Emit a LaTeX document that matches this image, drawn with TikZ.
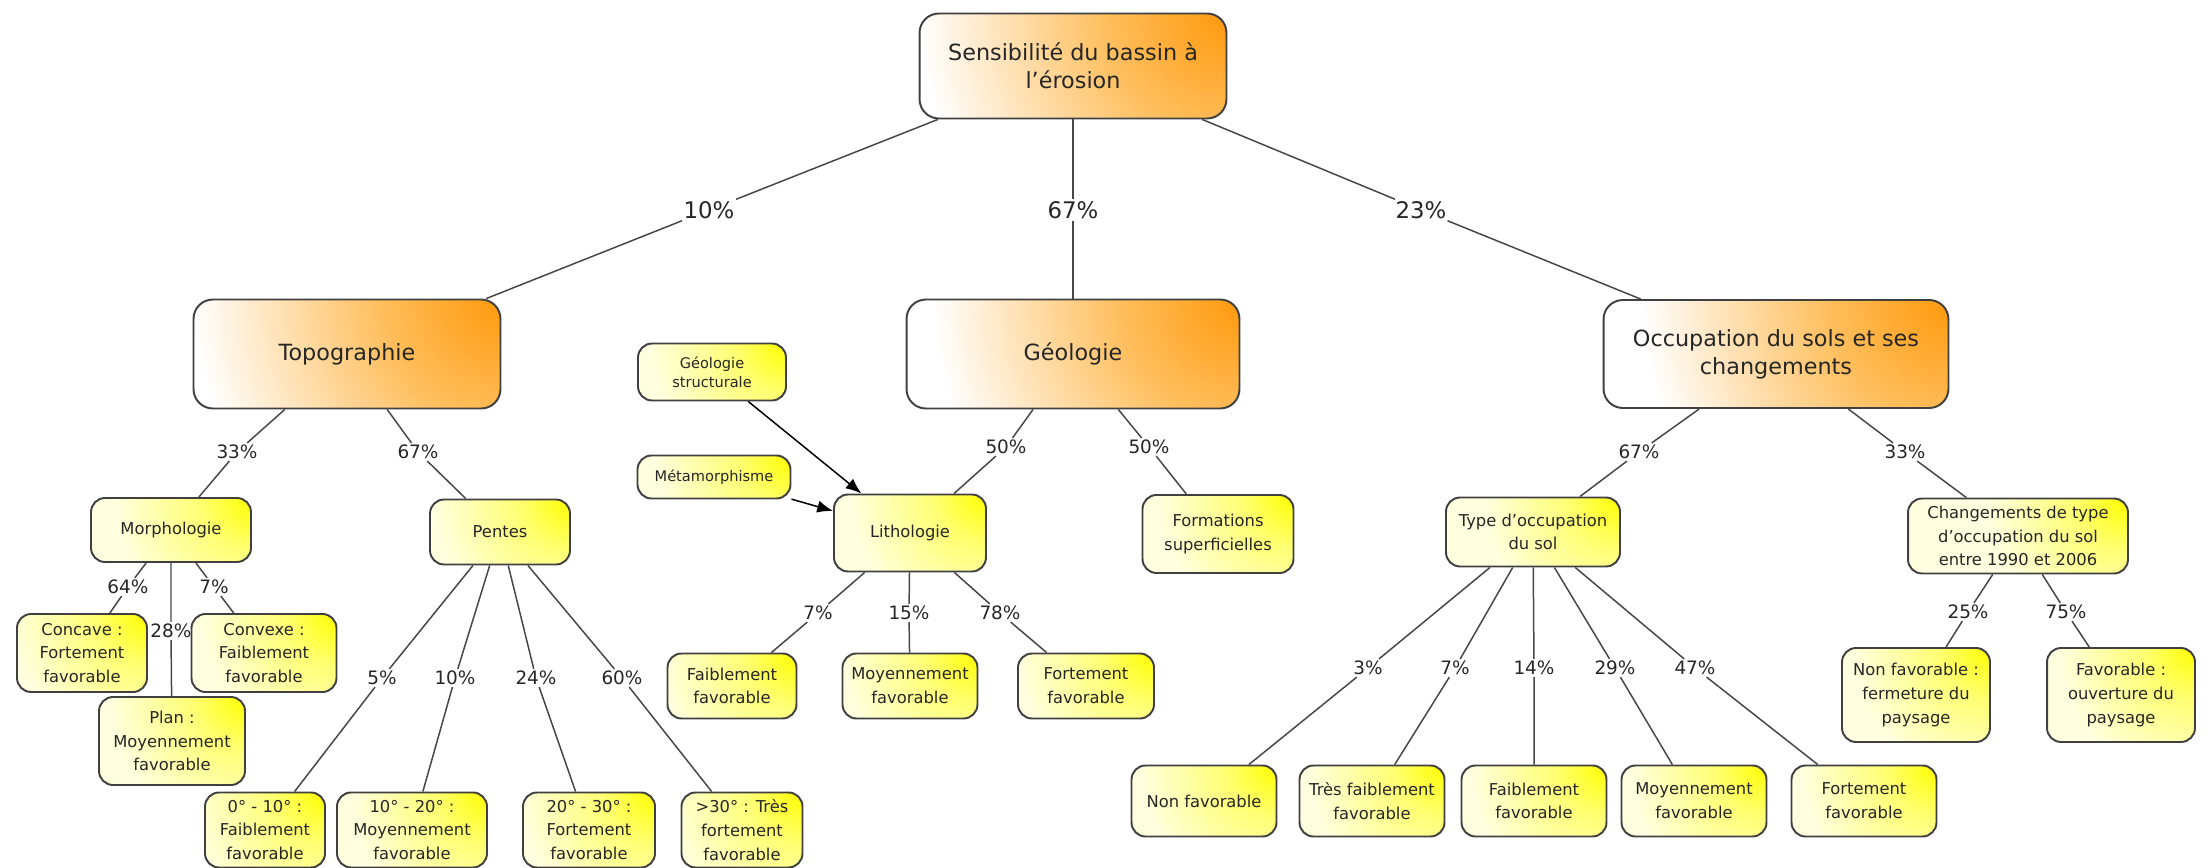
\documentclass[tikz,border=0pt]{standalone}
\usepackage{fontspec}
\setmainfont{DejaVu Sans}
\usetikzlibrary{arrows.meta}
\pgfdeclareradialshading{themecorner}{\pgfpointorigin}{rgb(0bp)=(1,0.6,0.05); rgb(6bp)=(1,0.74,0.35); rgb(16bp)=(1,1,1); rgb(50bp)=(1,1,1)}
\pgfdeclareradialshading{leafcorner}{\pgfpointorigin}{rgb(0bp)=(1,1,0); rgb(6bp)=(1,1,0.45); rgb(16bp)=(1,1,0.88); rgb(50bp)=(1,1,0.88)}

\begin{document}
\begin{tikzpicture}[x=0.02cm, y=-0.02cm, every node/.style={text=black!85}]
  \useasboundingbox (0,0) rectangle (2212,868);
  % pixel grid of the original map: x to the right, y downwards
  \tikzset{theme/.style={draw=black!75, line width=1.1pt, align=center, inner sep=1pt,
            rounded corners=11pt, fill=white, font=\fontsize{12.7}{16}\selectfont,
            path picture={\shade[shading=themecorner] (path picture bounding box.north east) circle (9.6cm);}},
           leaf/.style={draw=black!75, line width=1.1pt, align=center, inner sep=1pt,
            rounded corners=8pt, fill={rgb,1:red,1;green,1;blue,0.88}, font=\fontsize{9.3}{13.5}\selectfont,
            path picture={\shade[shading=leafcorner] (path picture bounding box.north east) circle (4.3cm);}},
           pct/.style={font=\fontsize{10.5}{12}\selectfont, inner sep=1pt},
           link/.style={draw=black!72, line width=0.85pt}}

  \node[theme, minimum width=6.14cm, minimum height=2.10cm] (root) at (1073,66) {Sensibilité du bassin à\\l’érosion};
  \node[theme, minimum width=6.14cm, minimum height=2.18cm] (topo) at (347,354) {Topographie};
  \node[theme, minimum width=6.66cm, minimum height=2.18cm] (geo) at (1073,354) {Géologie};
  \node[theme, minimum width=6.90cm, minimum height=2.16cm] (occ) at (1776,354) {Occupation du sols et ses\\changements};

  \node[leaf, minimum width=3.20cm, minimum height=1.28cm] (morph) at (171,530) {Morphologie};
  \node[leaf, minimum width=2.80cm, minimum height=1.30cm] (pentes) at (500,532) {Pentes};
  \node[leaf, minimum width=2.96cm, minimum height=1.14cm, font=\fontsize{8.3}{11}\selectfont] (gstruct) at (712,372) {Géologie\\structurale};
  \node[leaf, minimum width=3.06cm, minimum height=0.86cm, font=\fontsize{8.3}{11}\selectfont] (meta) at (714,477) {Métamorphisme};
  \node[leaf, minimum width=3.04cm, minimum height=1.54cm] (litho) at (910,533) {Lithologie};
  \node[leaf, minimum width=3.02cm, minimum height=1.56cm] (form) at (1218,534) {Formations\\superficielles};
  \node[leaf, minimum width=3.48cm, minimum height=1.38cm] (type) at (1533,532) {Type d’occupation\\du sol};
  \node[leaf, minimum width=4.40cm, minimum height=1.50cm] (chg) at (2018,536) {Changements de type\\d’occupation du sol\\entre 1990 et 2006};

  \node[leaf, minimum width=2.60cm, minimum height=1.56cm] (concave) at (82,653) {Concave :\\Fortement\\favorable};
  \node[leaf, minimum width=2.90cm, minimum height=1.56cm] (convexe) at (264,653) {Convexe :\\Faiblement\\favorable};
  \node[leaf, minimum width=2.92cm, minimum height=1.76cm] (plan) at (172,741) {Plan :\\Moyennement\\favorable};
  \node[leaf, minimum width=2.40cm, minimum height=1.50cm] (p1) at (265,830) {0° - 10° :\\Faiblement\\favorable};
  \node[leaf, minimum width=3.00cm, minimum height=1.50cm] (p2) at (412,830) {10° - 20° :\\Moyennement\\favorable};
  \node[leaf, minimum width=2.64cm, minimum height=1.50cm] (p3) at (589,830) {20° - 30° :\\Fortement\\favorable};
  \node[leaf, minimum width=2.42cm, minimum height=1.50cm] (p4) at (742,830) {>30° : Très\\fortement\\favorable};
  \node[leaf, minimum width=2.58cm, minimum height=1.30cm] (lf) at (732,686) {Faiblement\\favorable};
  \node[leaf, minimum width=2.70cm, minimum height=1.30cm] (lm) at (910,686) {Moyennement\\favorable};
  \node[leaf, minimum width=2.72cm, minimum height=1.30cm] (lF) at (1086,686) {Fortement\\favorable};
  \node[leaf, minimum width=2.90cm, minimum height=1.42cm] (t1) at (1204,801) {Non favorable};
  \node[leaf, minimum width=2.90cm, minimum height=1.42cm] (t2) at (1372,801) {Très faiblement\\favorable};
  \node[leaf, minimum width=2.90cm, minimum height=1.42cm] (t3) at (1534,801) {Faiblement\\favorable};
  \node[leaf, minimum width=2.90cm, minimum height=1.42cm] (t4) at (1694,801) {Moyennement\\favorable};
  \node[leaf, minimum width=2.90cm, minimum height=1.42cm] (t5) at (1864,801) {Fortement\\favorable};
  \node[leaf, minimum width=2.96cm, minimum height=1.88cm] (c1) at (1916,695) {Non favorable :\\fermeture du\\paysage};
  \node[leaf, minimum width=2.96cm, minimum height=1.88cm] (c2) at (2121,695) {Favorable :\\ouverture du\\paysage};

  % weights, set on the links
  \node[pct, font=\fontsize{13}{15}\selectfont] (w10) at (709,210) {10\%};
  \node[pct, font=\fontsize{13}{15}\selectfont] (w67) at (1073,210) {67\%};
  \node[pct, font=\fontsize{13}{15}\selectfont] (w23) at (1421,210) {23\%};
  \node[pct] (wTM) at (237,452) {33\%};
  \node[pct] (wTP) at (418,452) {67\%};
  \node[pct] (wGL) at (1006,447) {50\%};
  \node[pct] (wGF) at (1149,447) {50\%};
  \node[pct] (wOT) at (1639,452) {67\%};
  \node[pct] (wOC) at (1905,452) {33\%};
  \node[pct] (wM1) at (128,587) {64\%};
  \node[pct] (wM2) at (171,631) {28\%};
  \node[pct] (wM3) at (214,587) {7\%};
  \node[pct] (wP1) at (382,678) {5\%};
  \node[pct] (wP2) at (455,678) {10\%};
  \node[pct] (wP3) at (536,678) {24\%};
  \node[pct] (wP4) at (622,678) {60\%};
  \node[pct] (wL1) at (818,613) {7\%};
  \node[pct] (wL2) at (909,613) {15\%};
  \node[pct] (wL3) at (1000,613) {78\%};
  \node[pct] (wT1) at (1368,668) {3\%};
  \node[pct] (wT2) at (1455,668) {7\%};
  \node[pct] (wT3) at (1534,668) {14\%};
  \node[pct] (wT4) at (1615,668) {29\%};
  \node[pct] (wT5) at (1695,668) {47\%};
  \node[pct] (wC1) at (1968,612) {25\%};
  \node[pct] (wC2) at (2066,612) {75\%};

  \draw[link] (root) -- (w10) -- (topo);
  \draw[link] (root) -- (w67) -- (geo);
  \draw[link] (root) -- (w23) -- (occ);
  \draw[link] (topo) -- (wTM) -- (morph);
  \draw[link] (topo) -- (wTP) -- (pentes);
  \draw[link] (geo) -- (wGL) -- (litho);
  \draw[link] (geo) -- (wGF) -- (form);
  \draw[link] (occ) -- (wOT) -- (type);
  \draw[link] (occ) -- (wOC) -- (chg);
  \draw[link] (morph) -- (wM1) -- (concave);
  \draw[link] (morph) -- (wM2) -- (plan);
  \draw[link] (morph) -- (wM3) -- (convexe);
  \draw[link] (pentes) -- (wP1) -- (p1);
  \draw[link] (pentes) -- (wP2) -- (p2);
  \draw[link] (pentes) -- (wP3) -- (p3);
  \draw[link] (pentes) -- (wP4) -- (p4);
  \draw[link] (litho) -- (wL1) -- (lf);
  \draw[link] (litho) -- (wL2) -- (lm);
  \draw[link] (litho) -- (wL3) -- (lF);
  \draw[link] (type) -- (wT1) -- (t1);
  \draw[link] (type) -- (wT2) -- (t2);
  \draw[link] (type) -- (wT3) -- (t3);
  \draw[link] (type) -- (wT4) -- (t4);
  \draw[link] (type) -- (wT5) -- (t5);
  \draw[link] (chg) -- (wC1) -- (c1);
  \draw[link] (chg) -- (wC2) -- (c2);
  \draw[link, -{Latex[length=9pt, width=7pt]}, black] (gstruct) -- (litho);
  \draw[link, -{Latex[length=9pt, width=7pt]}, black] (meta) -- (litho);
\end{tikzpicture}
\end{document}
